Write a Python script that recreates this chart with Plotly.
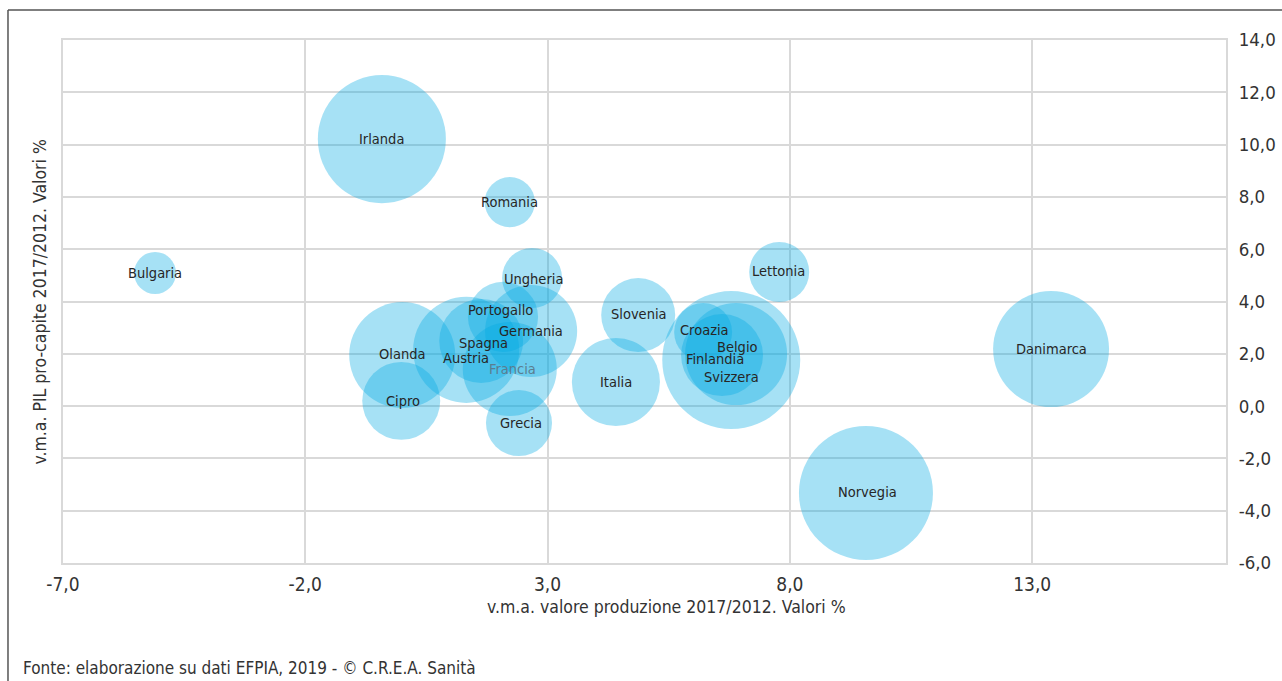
import plotly.graph_objects as go

# Paesi e indicatori (v.m.a. = variazione media annua 2017/2012, %)
paesi = ["Irlanda", "Bulgaria", "Romania", "Ungheria", "Lettonia", "Olanda", "Cipro",
         "Austria", "Spagna", "Portogallo", "Germania", "Francia", "Grecia",
         "Slovenia", "Italia", "Svizzera", "Belgio", "Finlandia", "Croazia",
         "Danimarca", "Norvegia"]
var_produzione = [-0.42, -5.10, 2.22, 2.68, 7.78, 0.00, -0.02,
                  1.32, 1.63, 2.08, 2.66, 2.22, 2.41,
                  4.87, 4.41, 6.79, 6.89, 6.60, 6.21,
                  13.39, 9.57]
var_pil_procapite = [10.21, 5.09, 7.80, 4.90, 5.13, 1.95, 0.20,
                     2.15, 2.49, 3.41, 2.87, 1.42, -0.65,
                     3.48, 0.92, 1.76, 1.99, 1.95, 2.83,
                     2.18, -3.32]
dimensione = [41.0, 4.4, 6.3, 9.0, 9.0, 28.1, 15.2,
              28.1, 17.6, 12.3, 21.2, 22.1, 10.9,
              13.7, 19.4, 47.6, 26.0, 16.8, 8.4,
              33.6, 44.9]

# spostamento delle etichette (px) dove le bolle si sovrappongono
etichetta_dx = [0, 0, 0, 1, -1, 0, 2, 0, 2, -3, 0, 3, 2, 1, 0, 0, 1, -7, 1, 0, 2]
etichetta_dy = [0, 0, 0, -1, 1, 1, 0, -8, -2, 7, 0, 0, 0, 1, 0, -17, 7, -4, 2, 0, 1]

x_ticks = [-7, -2, 3, 8, 13]
x_tick_labels = ["-7,0", "-2,0", "3,0", "8,0", "13,0"]
y_ticks = [-6, -4, -2, 0, 2, 4, 6, 8, 10, 12, 14]
y_tick_labels = ["-6,0", "-4,0", "-2,0", "0,0", "2,0", "4,0", "6,0", "8,0",
                 "10,0", "12,0", "14,0"]

FONT = ("DejaVu Sans Condensed, Liberation Sans Narrow, Arial Narrow, "
        "Liberation Sans, Arial, sans-serif")
GRID = "#d9d9d9"
TESTO = "#333333"

fig = go.Figure()
fig.add_trace(go.Scatter(
    x=var_produzione, y=var_pil_procapite, mode="markers",
    marker=dict(size=dimensione, sizemode="area", sizeref=0.005,
                color="rgba(0,170,225,0.5)", line=dict(width=0)),
    cliponaxis=False, hoverinfo="text", text=paesi,
))

for nome, x, y, dx, dy in zip(paesi, var_produzione, var_pil_procapite,
                              etichetta_dx, etichetta_dy):
    fig.add_annotation(
        x=x, y=y, text=nome, showarrow=False, xshift=dx, yshift=dy,
        font=dict(family=FONT, size=14.5,
                  color="#5b7d90" if nome == "Francia" else "#262626"),
    )

# titolo dell'asse verticale (le etichette dell'asse sono a destra)
fig.add_annotation(
    xref="paper", yref="paper", x=-0.0198, y=0.5, textangle=-90,
    xanchor="center", yanchor="middle",
    text="v.m.a. PIL pro-capite 2017/2012. Valori %", showarrow=False,
    font=dict(family=FONT, size=17.5, color=TESTO),
)
fig.add_annotation(
    xref="paper", yref="paper", x=0.519, y=-0.084,
    xanchor="center", yanchor="middle",
    text="v.m.a. valore produzione 2017/2012. Valori %", showarrow=False,
    font=dict(family=FONT, size=17.5, color=TESTO),
)
fig.add_annotation(
    xref="paper", yref="paper", x=-0.0361, y=-0.2008,
    xanchor="left", yanchor="middle",
    text="Fonte: elaborazione su dati EFPIA, 2019 - © C.R.E.A. Sanità", showarrow=False,
    font=dict(family=FONT, size=17, color=TESTO),
)

# cornice esterna
fig.add_shape(type="line", xref="paper", yref="paper", x0=-0.0473, x1=-0.0473,
              y0=-0.3, y1=1.0574, line=dict(color="#555555", width=1.5))
fig.add_shape(type="line", xref="paper", yref="paper", x0=-0.0473, x1=1.1,
              y0=1.0574, y1=1.0574, line=dict(color="#555555", width=1.5))

fig.update_xaxes(
    range=[-7, 17], tickvals=x_ticks, ticktext=x_tick_labels,
    showgrid=True, gridcolor=GRID, gridwidth=2, zeroline=False,
    showline=True, mirror=True, linecolor=GRID, linewidth=2,
    ticks="", ticklabelstandoff=3, automargin=False,
    tickfont=dict(family=FONT, size=19, color=TESTO),
)
fig.update_yaxes(
    range=[-6, 14], tickvals=y_ticks, ticktext=y_tick_labels, side="right",
    showgrid=True, gridcolor=GRID, gridwidth=2, zeroline=False,
    showline=True, mirror=True, linecolor=GRID, linewidth=2,
    ticks="", ticklabelstandoff=7, automargin=False,
    tickfont=dict(family=FONT, size=18.5, color=TESTO),
)
fig.update_layout(
    width=1282, height=681, autosize=False,
    margin=dict(l=63, r=56, t=40, b=118),
    paper_bgcolor="white", plot_bgcolor="white",
    showlegend=False,
)

fig.write_html("out.html")
